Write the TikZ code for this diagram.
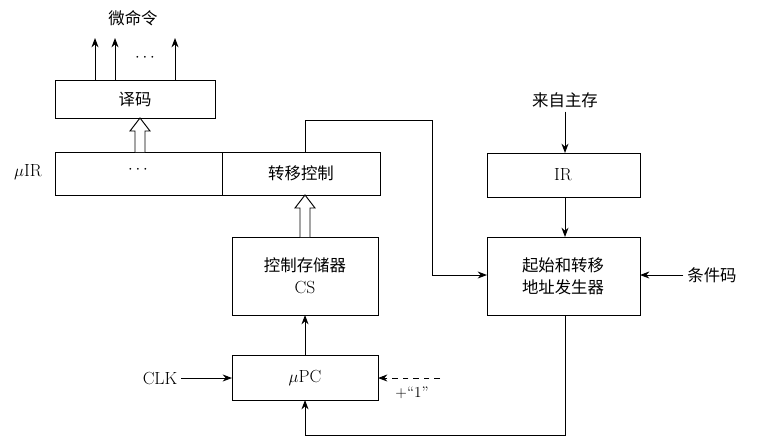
\documentclass[tikz,border=0pt]{standalone}
\usepackage{fontspec}
\newfontfamily\cjk{Noto Sans CJK SC}
\usetikzlibrary{arrows.meta}
\begin{document}
\begin{tikzpicture}[x=0.03cm,y=-0.03cm,
  box/.style={draw,thick,inner sep=0},
  lbl/.style={font=\fontsize{14}{18}\selectfont\cjk,align=center},
  lat/.style={font=\fontsize{15}{18}\selectfont},
  arr/.style={thick,-{Stealth[length=8pt,width=6pt]}},
  line/.style={thick}]
\useasboundingbox (0,0) rectangle (760,438);
% boxes
\draw[box] (55,80) rectangle (215,118);
\node[lbl] (yima) at (135,99) {译码};
\draw[box] (55,152) rectangle (380,195);
\draw[thick] (222,152) -- (222,195);
\node[lat] (dots1) at (138,170) {$\cdots$};
\node[lbl] (zy) at (301,173) {转移控制};
\node[lat] (muir) at (28,172) {$\mu$IR};
\draw[box] (232,237) rectangle (378,315);
\node[lbl,font=\fontsize{14}{19}\selectfont\cjk] (cs) at (305,276) {控制存储器\\{\rmfamily\fontsize{15}{19}\selectfont CS}};
\draw[box] (232,355) rectangle (378,400);
\node[lat] (mupc) at (305,378) {$\mu$PC};
\draw[box] (487,153) rectangle (640,197);
\node[lat] (ir) at (563,175) {IR};
\draw[box] (487,237) rectangle (640,315);
\node[lbl,font=\fontsize{14}{19}\selectfont\cjk] (qs) at (563,276) {起始和转移\\地址发生器};
% texts
\node[lbl] (wml) at (133,18) {微命令};
\node[lat] (dots2) at (145,58) {$\cdots$};
\node[lbl] (lz) at (565,100) {来自主存};
\node[lbl] (tj) at (712,275) {条件码};
\node[lat] (clk) at (160,378) {CLK};
\node[font=\fontsize{13}{15}\selectfont] (p1) at (412,393) {+“1”};
% coordinates
\coordinate (a1) at (95,80); \coordinate (b1) at (95,38);
\coordinate (a2) at (115,80); \coordinate (b2) at (115,38);
\coordinate (a3) at (175,80); \coordinate (b3) at (175,38);
\draw[arr] (a1) -- (b1); \draw[arr] (a2) -- (b2); \draw[arr] (a3) -- (b3);
% hollow arrows
\draw[thick,fill=white] (135,152) -- (135,131) -- (130,131) -- (140,118) -- (150,131) -- (145,131) -- (145,152);
\draw[thick,fill=white] (300,237) -- (300,208) -- (295,208) -- (305,195) -- (315,208) -- (310,208) -- (310,237);
% connectors
\draw[arr] (305,355) -- (305,315);
\draw[arr] (clk) -- (232,378);
\draw[thick,dash pattern=on 5pt off 4pt,-{Stealth[length=8pt,width=6pt]}] (440,378) -- (378,378);
\draw[arr] (lz) -- (565,153);
\draw[arr] (565,197) -- (565,237);
\draw[arr] (tj) -- (640,275);
\draw[arr] (305,152) -- (305,120) -- (432,120) -- (432,275) -- (487,275);
\draw[arr] (565,315) -- (565,435) -- (305,435) -- (305,400);
\end{tikzpicture}
\end{document}
